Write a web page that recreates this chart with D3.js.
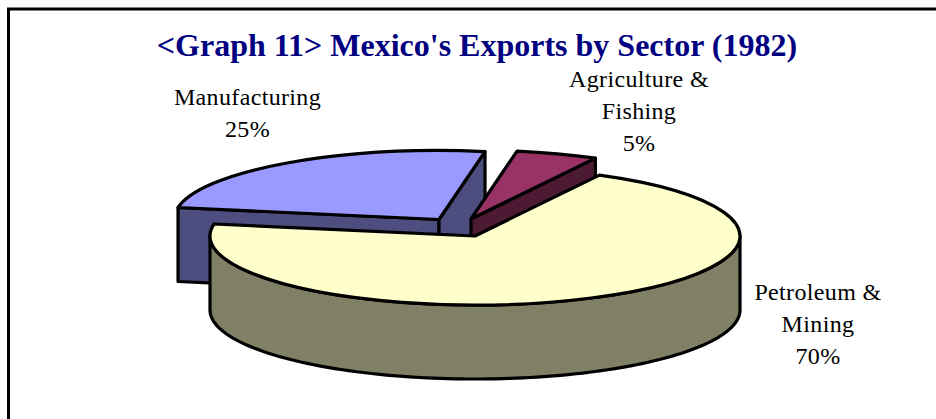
<!DOCTYPE html>
<html>
<head>
<meta charset="utf-8">
<script src="https://cdn.jsdelivr.net/npm/d3@7/dist/d3.min.js"></script>
<style>
  html, body { margin: 0; padding: 0; background: #fff; }
  svg { display: block; }
  text { font-family: "Liberation Serif", serif; }
</style>
</head>
<body>
<script>
// Export shares by sector, in percent
const sectors = ["Manufacturing", "Agriculture & Fishing", "Petroleum & Mining"];
const shares = [25, 5, 70];
const labelLines = [["Manufacturing", "25%"], ["Agriculture &", "Fishing", "5%"], ["Petroleum &", "Mining", "70%"]];
const topColors = ["#9999ff", "#993366", "#ffffcc"];
const wallColors = ["#4d4d80", "#4d1a33", "#808066"];
const chartTitle = "<Graph 11> Mexico's Exports by Sector (1982)";

const width = 936, height = 419;
const rx = 265, ry = 69, depth = 74;
const startDeg = 280;
// Where each pulled-apart slice has its tip
const tips = [[439, 219.5], [471, 219], [475, 236]];
const labelPos = [[247.5, 105], [639, 87], [818, 300]];
const lineStep = 32;
const strokeW = 3.2;

const svg = d3.select("body").append("svg").attr("width", width).attr("height", height);
svg.append("rect").attr("width", width).attr("height", height).attr("fill", "#fff");

// Frame, open toward the bottom and right edges
svg.append("path")
  .attr("d", d3.line()([[8.5, height], [8.5, 9], [width, 9]]))
  .attr("fill", "none").attr("stroke", "#000").attr("stroke-width", 3);

svg.append("text")
  .attr("x", 477).attr("y", 56)
  .attr("text-anchor", "middle")
  .attr("font-size", 32).attr("font-weight", "bold").attr("fill", "#000080")
  .text(chartTitle);

const start = startDeg * Math.PI / 180;
const pie = d3.pie().sort(null).startAngle(start).endAngle(start + 2 * Math.PI);
const arcs = pie(shares);

// Angle is measured clockwise from twelve o'clock, as in d3.pie
const rim = (a, tip, drop = 0) => [tip[0] + rx * Math.sin(a), tip[1] - ry * Math.cos(a) + drop];
const line = d3.line();
const styled = sel => sel.attr("stroke", "#000").attr("stroke-width", strokeW).attr("stroke-linejoin", "round");

arcs.forEach((d, i) => {
  const tip = tips[i];
  const g = svg.append("g").attr("class", "slice");

  // Radial walls, only those that turn toward the viewer
  [[d.startAngle, Math.sin(d.startAngle) < 0], [d.endAngle, Math.sin(d.endAngle) > 0]].forEach(([a, visible]) => {
    if (!visible) return;
    const p = rim(a, tip), q = rim(a, tip, depth);
    styled(g.append("path"))
      .attr("fill", wallColors[i])
      .attr("d", line([tip, p, q, [tip[0], tip[1] + depth]]) + "Z");
  });

  // Outer wall along the front half of the rim, checked on both turns of the circle
  [0, 2 * Math.PI].forEach(turn => {
    const lo = Math.max(d.startAngle, Math.PI / 2 + turn);
    const hi = Math.min(d.endAngle, 3 * Math.PI / 2 + turn);
    if (lo >= hi) return;
    const steps = d3.range(0, 121).map(k => lo + (hi - lo) * k / 120);
    const upper = steps.map(a => rim(a, tip));
    const lower = steps.slice().reverse().map(a => rim(a, tip, depth));
    styled(g.append("path"))
      .attr("fill", wallColors[i])
      .attr("d", line(upper.concat(lower)) + "Z");
  });

  // Top face: a d3.arc sector flattened into an ellipse
  styled(g.append("path"))
    .attr("transform", `translate(${tip[0]},${tip[1]}) scale(1,${ry / rx})`)
    .attr("vector-effect", "non-scaling-stroke")
    .attr("fill", topColors[i])
    .attr("d", d3.arc().innerRadius(0).outerRadius(rx)(d));
});

// Data labels
labelLines.forEach((lines, i) => {
  const t = svg.append("text")
    .attr("text-anchor", "middle")
    .attr("font-size", 24).attr("letter-spacing", 0.35).attr("fill", "#000");
  lines.forEach((s, k) => {
    t.append("tspan")
      .attr("x", labelPos[i][0])
      .attr("y", labelPos[i][1] + k * lineStep)
      .text(s);
  });
});
</script>
</body>
</html>
